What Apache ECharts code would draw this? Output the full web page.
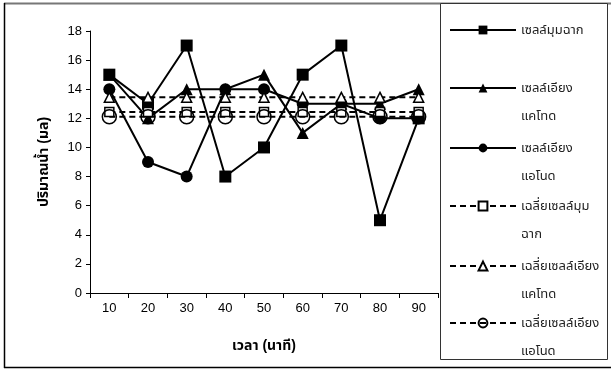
<!DOCTYPE html>
<html>
<head>
<meta charset="utf-8">
<script src="https://cdn.jsdelivr.net/npm/echarts@6/dist/echarts.min.js"></script>
<style>
html,body{margin:0;padding:0;background:#fff;}
#c{width:611px;height:371px;}
</style>
</head>
<body>
<div id="c"></div>
<script>
var categories = ['10','20','30','40','50','60','70','80','90'];
var seriesNames = ['เซลล์มุมฉาก','เซลล์เอียงแคโทด','เซลล์เอียงแอโนด','เฉลี่ยเซลล์มุมฉาก','เฉลี่ยเซลล์เอียงแคโทด','เฉลี่ยเซลล์เอียงแอโนด'];
var legendLabels = ['เซลล์มุมฉาก','\nเซลล์เอียง\nแคโทด','\nเซลล์เอียง\nแอโนด','\nเฉลี่ยเซลล์มุม\nฉาก','\nเฉลี่ยเซลล์เอียง\nแคโทด','\nเฉลี่ยเซลล์เอียง\nแอโนด'];
var rightAngle = [15,13,17,8,10,15,17,5,12];
var cathode = [15,12,14,14,15,11,13,13,14];
var anode = [14,9,8,14,14,13,13,12,12];
var avgRightAngle = [12.44,12.44,12.44,12.44,12.44,12.44,12.44,12.44,12.44];
var avgCathode = [13.44,13.44,13.44,13.44,13.44,13.44,13.44,13.44,13.44];
var avgAnode = [12.11,12.11,12.11,12.11,12.11,12.11,12.11,12.11,12.11];
var yTicks = {min:0, max:18, interval:2};

var FONT = '"Liberation Sans", Arial, "Noto Sans Thai", Tahoma, "Noto Sans", sans-serif';
var chart = echarts.init(document.getElementById('c'), null, {renderer:'canvas'});

var styles = [
  {symbol:'rect', size:12, fill:'#000', dash:'solid'},
  {symbol:'triangle', size:12, fill:'#000', dash:'solid'},
  {symbol:'circle', size:12, fill:'#000', dash:'solid'},
  {symbol:'rect', size:9, fill:'#fff', dash:[6,4]},
  {symbol:'triangle', size:10, fill:'#fff', dash:[6,4]},
  {symbol:'circle', size:14, fill:'rgba(255,255,255,0)', dash:[6,4]}
];
var dataSets = [rightAngle, cathode, anode, avgRightAngle, avgCathode, avgAnode];

var series = dataSets.map(function(d,i){
  var s = styles[i];
  return {
    name: seriesNames[i], type:'line', data:d,
    symbol:s.symbol, symbolSize:s.size, showAllSymbol:true,
    lineStyle:{color:'#000', width:2, type:s.dash},
    itemStyle:{color:s.fill, borderColor:'#000', borderWidth: s.fill==='#000'?0:1.5},
    emphasis:{disabled:true}, animation:false
  };
});

var iconY = [30,88,148,206,266,323];
var legends = seriesNames.map(function(n,i){
  var lines = i===0 ? 1 : 3;
  return {
    data:[n], left:449, top: iconY[i] - lines*28/2, padding:0,
    itemWidth:66, itemHeight:11, itemGap:0,
    lineStyle:{width:2},
    formatter:function(){ return legendLabels[i]; },
    textStyle:{fontFamily:FONT, fontSize:13, color:'#222', lineHeight:28},
    selectedMode:false
  };
});

chart.setOption({
  animation:false,
  backgroundColor:'#fff',
  textStyle:{fontFamily:FONT},
  graphic:[
    {type:'line', shape:{x1:4, y1:3.5, x2:611, y2:3.5}, style:{stroke:'#777', lineWidth:2}, z:0},
    {type:'line', shape:{x1:4.5, y1:3, x2:4.5, y2:368}, style:{stroke:'#000', lineWidth:1.5}, z:0},
    {type:'line', shape:{x1:4, y1:367.5, x2:611, y2:367.5}, style:{stroke:'#000', lineWidth:1.5}, z:0},
    {type:'rect', shape:{x:440.5, y:3.5, width:167, height:356}, style:{fill:'#fff', stroke:'#333', lineWidth:1}, z:3}
  ],
  grid:{left:90, right:173, top:31, bottom:78, containLabel:false},
  xAxis:{
    type:'category', data:categories, boundaryGap:true,
    axisLine:{lineStyle:{color:'#000', width:1}},
    axisTick:{show:true, length:5, lineStyle:{color:'#000'}},
    axisLabel:{color:'#000', fontSize:13, margin:9, fontFamily:FONT},
    name:'เวลา (นาที)', nameLocation:'middle', nameGap:46,
    nameTextStyle:{color:'#000', fontSize:14, fontWeight:'bold', fontFamily:FONT},
    splitLine:{show:false}
  },
  yAxis:{
    type:'value', min:yTicks.min, max:yTicks.max, interval:yTicks.interval,
    axisLine:{show:true, lineStyle:{color:'#000', width:1}},
    axisTick:{show:true, length:4, lineStyle:{color:'#000'}},
    axisLabel:{color:'#000', fontSize:13, margin:8, fontFamily:FONT},
    name:'ปริมาณน้ำ (มล)', nameLocation:'middle', nameGap:39, nameRotate:90,
    nameTextStyle:{color:'#000', fontSize:14, fontWeight:'bold', fontFamily:FONT},
    splitLine:{show:false}
  },
  legend:legends,
  series:series
});
</script>
</body>
</html>
